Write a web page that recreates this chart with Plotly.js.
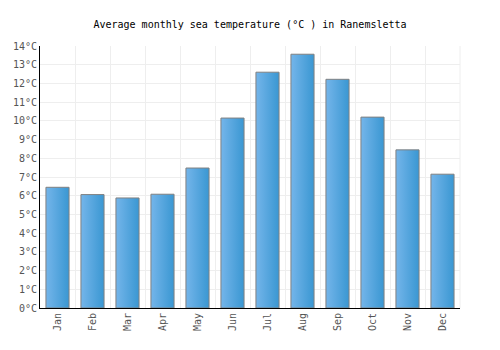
<!DOCTYPE html>
<html><head><meta charset="utf-8">
<script src="https://cdn.plot.ly/plotly-3.0.1.min.js"></script>
<style>body{margin:0;background:#fff}#c{width:500px;height:350px}</style>
</head><body><div id="c"></div>
<script>
const months = ['Jan','Feb','Mar','Apr','May','Jun','Jul','Aug','Sep','Oct','Nov','Dec'];
const seaTemp = [6.45, 6.06, 5.88, 6.08, 7.48, 10.15, 12.6, 13.56, 12.22, 10.2, 8.45, 7.15];
const yTicks = [0,1,2,3,4,5,6,7,8,9,10,11,12,13,14];

const font = "'DejaVu Sans Mono', monospace";
const data = [{
  type: 'bar', x: months, y: seaTemp,
  marker: {color: '#55a6df', line: {color: '#808080', width: 1}},
  hoverinfo: 'none'
}];
const layout = {
  width: 500, height: 350,
  margin: {l: 40, r: 40, t: 46, b: 42},
  paper_bgcolor: '#fff', plot_bgcolor: '#fff',
  bargap: 0.34,
  showlegend: false,
  title: {text: 'Average monthly sea temperature (°C ) in Ranemsletta', font: {family: font, size: 10, color: '#000'}, x: 0.5, xanchor: 'center', y: 0.93, yanchor: 'middle'},
  xaxis: {
    type: 'category', tickson: 'boundaries', showgrid: true, gridcolor: '#eeeeee', gridwidth: 1,
    showline: true, linecolor: '#000', linewidth: 1, ticks: '', tickangle: -90,
    tickfont: {family: font, size: 10, color: '#555'}, mirror: false
  },
  yaxis: {
    range: [0, 14], tickvals: yTicks, ticktext: yTicks.map(v => v + '°C'),
    showgrid: true, gridcolor: '#eeeeee', gridwidth: 1, zeroline: false,
    showline: true, linecolor: '#000', linewidth: 1, ticks: '',
    tickfont: {family: font, size: 10, color: '#555'}, fixedrange: true
  },
  shapes: [
    {type: 'line', xref: 'paper', yref: 'paper', x0: 1, x1: 1, y0: 0, y1: 1, line: {color: '#eeeeee', width: 1}, layer: 'below'}
  ]
};
Plotly.newPlot('c', data, layout, {staticPlot: true}).then(gd => {
  const svg = gd.querySelector('svg.main-svg');
  const ns = 'http://www.w3.org/2000/svg';
  let defs = svg.querySelector('defs');
  if (!defs) { defs = document.createElementNS(ns, 'defs'); svg.insertBefore(defs, svg.firstChild); }
  const g = document.createElementNS(ns, 'linearGradient');
  g.setAttribute('id', 'barGrad');
  g.setAttribute('x1', '0'); g.setAttribute('y1', '0'); g.setAttribute('x2', '1'); g.setAttribute('y2', '0');
  [['0%', '#74b5ea'], ['100%', '#3a97d2']].forEach(([o, c]) => {
    const s = document.createElementNS(ns, 'stop');
    s.setAttribute('offset', o); s.setAttribute('stop-color', c); g.appendChild(s);
  });
  defs.appendChild(g);
  gd.querySelectorAll('.point path').forEach(p => { p.style.fill = 'url(#barGrad)'; });
});
</script></body></html>
